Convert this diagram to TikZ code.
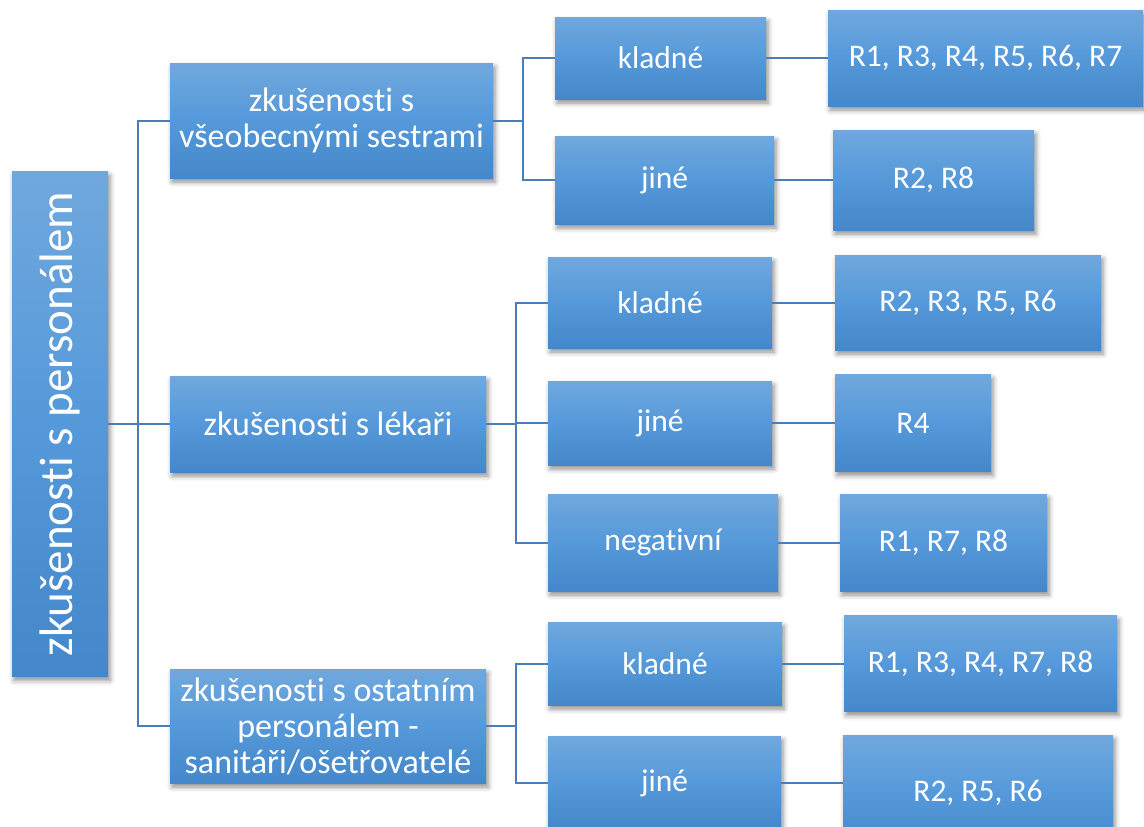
\documentclass[tikz,border=0pt]{standalone}
\usepackage{fontspec}
\usepackage{graphicx}
\setmainfont{Carlito}[Ligatures={NoCommon}]
\usetikzlibrary{shadows.blur}

\definecolor{boxtop}{HTML}{70A8DD}
\definecolor{boxmid}{HTML}{5599DA}
\definecolor{boxbot}{HTML}{4487CA}
\definecolor{linkblue}{HTML}{4A7EBB}

\tikzset{
  box/.style={rectangle, inner sep=0pt, text=white, align=center,
    top color=boxtop, bottom color=boxbot, middle color=boxmid,
    blur shadow={shadow xshift=2pt, shadow yshift=-4pt,
                 shadow blur radius=5pt, shadow opacity=45}},
  bw/.style={minimum width=#1},
  bh/.style={minimum height=#1},
  lvlone/.style={font=\fontsize{34}{36}\selectfont},
  lvltwo/.style={font=\fontsize{31.5}{34}\selectfont},
  conn/.style={draw=linkblue, line width=2pt},
}

\begin{document}
\begin{tikzpicture}[x=1pt, y=-1pt]
  \useasboundingbox (0,0) rectangle (1144,827);

  % root
  \node[box, bw=96, bh=505] (root) at (60,424)
    {\rotatebox{90}{\fontsize{47}{49}\selectfont zkušenosti s personálem}};

  % first level
  \node[box, lvlone, bw=323, bh=115] (nurses) at (331.5,120.5)
    {zkušenosti s\\všeobecnými sestrami};
  \node[box, lvlone, bw=316, bh=96] (doctors) at (328,424)
    {zkušenosti s lékaři};
  \node[box, lvlone, bw=316, bh=114] (others) at (328,726)
    {zkušenosti s ostatním\\personálem -\\sanitáři/ošetřovatelé};

  % second level: nurses
  \node[box, lvltwo, bw=211, bh=82] (nPos) at (660.5,58) {kladné};
  \node[box, lvltwo, bw=219, bh=88] (nOth) at (664.5,180) {jiné};
  % second level: doctors
  \node[box, lvltwo, bw=224, bh=91] (dPos) at (660,302.5) {kladné};
  \node[box, lvltwo, bw=224, bh=84] (dOth) at (660,423) {jiné};
  \node[box, lvltwo, bw=230, bh=97] (dNeg) at (663,542.5) {negativní};
  % second level: other staff
  \node[box, lvltwo, bw=234, bh=83] (oPos) at (665,663.5) {kladné};
  \node[box, lvltwo, bw=233, bh=94] (oOth) at (664.5,783) {jiné};

  % respondents
  \node[box, lvltwo, bw=315, bh=96]  (rnPos) at (985.5,58)  {R1, R3, R4, R5, R6, R7};
  \node[box, lvltwo, bw=201, bh=100] (rnOth) at (933.5,180) {R2, R8};
  \node[box, lvltwo, bw=266, bh=95]  (rdPos) at (968,302.5) {R2, R3, R5, R6};
  \node[box, lvltwo, bw=156, bh=97]  (rdOth) at (913,423) {R4};
  \node[box, lvltwo, bw=207, bh=97]  (rdNeg) at (943.5,542.5) {R1, R7, R8};
  \node[box, lvltwo, bw=273, bh=96]  (roPos) at (980.5,663.5) {R1, R3, R4, R7, R8};
  \node[box, lvltwo, bw=270, bh=116] (roOth) at (978,793) {R2, R5, R6};

  % bus positions
  \coordinate (busRoot) at (138,0);
  \coordinate (busN) at (523,0);
  \coordinate (busD) at (516,0);
  \coordinate (busO) at (516,0);

  % root to first level
  \draw[conn] (root.east) -- (root.east -| doctors.west);
  \draw[conn] (nurses.west) -- (nurses.west -| busRoot) -- (others.west -| busRoot) -- (others.west);

  % nurses branch
  \draw[conn] (nurses.east) -- (nurses.east -| busN);
  \draw[conn] (nPos.west) -- (nPos.west -| busN) -- (nOth.west -| busN) -- (nOth.west);

  % doctors branch
  \draw[conn] (doctors.east) -- (doctors.east -| busD);
  \draw[conn] (dOth.west) -- (dOth.west -| busD);
  \draw[conn] (dPos.west) -- (dPos.west -| busD) -- (dNeg.west -| busD) -- (dNeg.west);

  % other staff branch
  \draw[conn] (others.east) -- (others.east -| busO);
  \draw[conn] (oPos.west) -- (oPos.west -| busO) -- (oOth.west -| busO) -- (oOth.west);

  % second level to respondents
  \draw[conn] (nPos.east) -- (rnPos.west);
  \draw[conn] (nOth.east) -- (rnOth.west);
  \draw[conn] (dPos.east) -- (rdPos.west);
  \draw[conn] (dOth.east) -- (rdOth.west);
  \draw[conn] (dNeg.east) -- (rdNeg.west);
  \draw[conn] (oPos.east) -- (roPos.west);
  \draw[conn] (oOth.east) -- (oOth.east -| roOth.west);
\end{tikzpicture}
\end{document}
